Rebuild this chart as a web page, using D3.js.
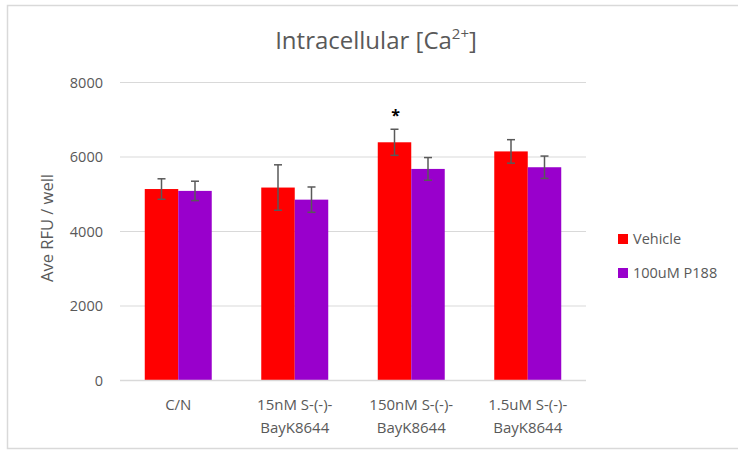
<!DOCTYPE html>
<html><head><meta charset="utf-8">
<script src="https://cdn.jsdelivr.net/npm/d3@7"></script>
<style>body{margin:0;background:#fff}text{font-family:"Open Sans","Liberation Sans",sans-serif}</style>
</head><body>
<svg id="c" width="738" height="451"></svg>
<script>
const categories = [["C/N"], ["15nM S-(-)-", "BayK8644"], ["150nM S-(-)-", "BayK8644"], ["1.5uM S-(-)-", "BayK8644"]];
const seriesNames = ["Vehicle", "100uM P188"];
const seriesColors = ["#ff0000", "#9900cc"];
const vehicle = [5140, 5180, 6395, 6150];
const vehicleErr = [275, 610, 350, 315];
const p188 = [5090, 4855, 5680, 5725];
const p188Err = [260, 340, 305, 300];
const yTicks = [0, 2000, 4000, 6000, 8000];
const significance = ["", "", "*", ""];

const svg = d3.select("#c");
const grey = "#595959";
svg.append("rect").attr("x", 7.5).attr("y", 5.5).attr("width", 740).attr("height", 443)
  .attr("fill", "#fff").attr("stroke", "#d9d9d9").attr("stroke-width", 1.5);

const x0 = 120, x1 = 586, yTop = 82.5, yBot = 380.5;
const x = d3.scaleBand().domain(d3.range(categories.length)).range([x0, x1]).paddingInner(0.425).paddingOuter(0.2125);
const xs = d3.scaleBand().domain([0, 1]).range([0, x.bandwidth()]);
const y = d3.scaleLinear().domain([0, 8000]).range([yBot, yTop]);

// gridlines
svg.append("g").selectAll("line").data(yTicks.slice(1)).join("line")
  .attr("x1", x0).attr("x2", x1).attr("y1", d => y(d)).attr("y2", d => y(d))
  .attr("stroke", "#d9d9d9").attr("stroke-width", 1);

// y axis labels
const yAxis = d3.axisLeft(y).tickValues(yTicks).tickSize(0).tickPadding(17).tickFormat(d3.format("d"));
const ya = svg.append("g").attr("transform", `translate(${x0},0)`).call(yAxis);
ya.select(".domain").remove();
ya.selectAll("text").attr("fill", grey).attr("font-size", 14.5).style("font-family", '"Open Sans",sans-serif');

// bars
const data = [vehicle, p188];
const errs = [vehicleErr, p188Err];
data.forEach((vals, s) => {
  const g = svg.append("g");
  g.selectAll("rect").data(vals).join("rect")
    .attr("x", (d, i) => x(i) + xs(s)).attr("width", xs.bandwidth())
    .attr("y", d => y(d)).attr("height", d => yBot - y(d))
    .attr("fill", seriesColors[s]);
});
// error bars
data.forEach((vals, s) => {
  const g = svg.append("g").attr("stroke", "#595959").attr("stroke-width", 1.5);
  vals.forEach((v, i) => {
    const cx = x(i) + xs(s) + xs.bandwidth() / 2;
    const e = errs[s][i];
    g.append("line").attr("x1", cx).attr("x2", cx).attr("y1", y(v + e)).attr("y2", y(v - e));
    g.append("line").attr("x1", cx - 4).attr("x2", cx + 4).attr("y1", y(v + e)).attr("y2", y(v + e));
    g.append("line").attr("x1", cx - 4).attr("x2", cx + 4).attr("y1", y(v - e)).attr("y2", y(v - e));
  });
});
// significance
significance.forEach((t, i) => {
  if (!t) return;
  const cx = x(i) + xs(0) + xs.bandwidth() / 2;
  svg.append("text").attr("x", cx + 1).attr("y", y(vehicle[i] + vehicleErr[i]) - 8)
    .attr("text-anchor", "middle").attr("font-size", 16).attr("font-weight", "bold").attr("fill", "#000").text(t);
});

// x axis line
svg.append("line").attr("x1", x0).attr("x2", x1).attr("y1", yBot).attr("y2", yBot)
  .attr("stroke", "#d9d9d9").attr("stroke-width", 1.5);

// x labels
categories.forEach((lines, i) => {
  const t = svg.append("text").attr("x", x(i) + x.bandwidth() / 2).attr("y", 410)
    .attr("text-anchor", "middle").attr("font-size", 15).attr("fill", grey);
  lines.forEach((l, j) => t.append("tspan").attr("x", x(i) + x.bandwidth() / 2).attr("dy", j ? 23 : 0).text(l));
});

// y title
svg.append("text").attr("transform", "translate(53,228) rotate(-90)").attr("text-anchor", "middle")
  .attr("font-size", 16.5).attr("fill", grey).text("Ave RFU / well");

// title
const title = svg.append("text").attr("x", 376).attr("y", 49).attr("text-anchor", "middle")
  .attr("font-size", 24).attr("fill", grey);
title.append("tspan").text("Intracellular [Ca");
title.append("tspan").attr("font-size", 15).attr("dy", -10).text("2+");
title.append("tspan").attr("dy", 10).text("]");

// legend
seriesNames.forEach((n, s) => {
  const ly = 239 + s * 34;
  svg.append("rect").attr("x", 618).attr("y", ly - 5).attr("width", 10).attr("height", 10).attr("fill", seriesColors[s]);
  svg.append("text").attr("x", 633).attr("y", ly + 5).attr("font-size", 14.5).attr("fill", grey).text(n);
});
</script>
</body></html>
